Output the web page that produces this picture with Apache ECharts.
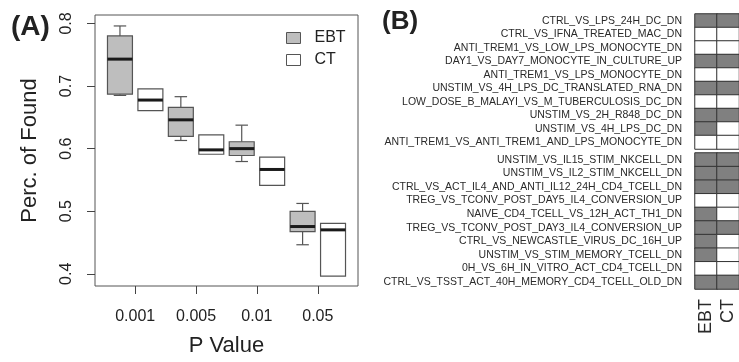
<!DOCTYPE html>
<html>
<head>
<meta charset="utf-8">
<script src="https://cdn.jsdelivr.net/npm/echarts@6/dist/echarts.min.js"></script>
<style>
html,body{margin:0;padding:0;background:#fff;}
#chart{width:739px;height:362px;}
</style>
</head>
<body>
<div id="chart"></div>
<script>
// ---- Panel A data ----
const pValues = ['0.001', '0.005', '0.01', '0.05'];
// [min, Q1, median, Q3, max]
const ebtStats = [
  [0.685, 0.687, 0.743, 0.780, 0.796],
  [0.613, 0.6195, 0.646, 0.666, 0.683],
  [0.5794, 0.589, 0.600, 0.611, 0.6375],
  [0.4464, 0.4675, 0.4755, 0.4997, 0.5124]
];
const ctStats = [
  [0.6607, 0.6607, 0.6776, 0.6955, 0.6955],
  [0.591, 0.591, 0.598, 0.622, 0.622],
  [0.5414, 0.5414, 0.5667, 0.5863, 0.5863],
  [0.3963, 0.3963, 0.4702, 0.4807, 0.4807]
];
const yTicks = [0.4, 0.5, 0.6, 0.7, 0.8];

// ---- Panel B data ----
const methods = ['EBT', 'CT'];
const geneSets1 = [
  'CTRL_VS_LPS_24H_DC_DN',
  'CTRL_VS_IFNA_TREATED_MAC_DN',
  'ANTI_TREM1_VS_LOW_LPS_MONOCYTE_DN',
  'DAY1_VS_DAY7_MONOCYTE_IN_CULTURE_UP',
  'ANTI_TREM1_VS_LPS_MONOCYTE_DN',
  'UNSTIM_VS_4H_LPS_DC_TRANSLATED_RNA_DN',
  'LOW_DOSE_B_MALAYI_VS_M_TUBERCULOSIS_DC_DN',
  'UNSTIM_VS_2H_R848_DC_DN',
  'UNSTIM_VS_4H_LPS_DC_DN',
  'ANTI_TREM1_VS_ANTI_TREM1_AND_LPS_MONOCYTE_DN'
];
const found1EBT = [1, 0, 0, 1, 0, 1, 0, 1, 1, 0];
const found1CT  = [1, 0, 0, 1, 0, 1, 0, 1, 0, 0];
const geneSets2 = [
  'UNSTIM_VS_IL15_STIM_NKCELL_DN',
  'UNSTIM_VS_IL2_STIM_NKCELL_DN',
  'CTRL_VS_ACT_IL4_AND_ANTI_IL12_24H_CD4_TCELL_DN',
  'TREG_VS_TCONV_POST_DAY5_IL4_CONVERSION_UP',
  'NAIVE_CD4_TCELL_VS_12H_ACT_TH1_DN',
  'TREG_VS_TCONV_POST_DAY3_IL4_CONVERSION_UP',
  'CTRL_VS_NEWCASTLE_VIRUS_DC_16H_UP',
  'UNSTIM_VS_STIM_MEMORY_TCELL_DN',
  '0H_VS_6H_IN_VITRO_ACT_CD4_TCELL_DN',
  'CTRL_VS_TSST_ACT_40H_MEMORY_CD4_TCELL_OLD_DN'
];
const found2EBT = [1, 1, 1, 0, 1, 1, 1, 1, 0, 1];
const found2CT  = [1, 1, 1, 0, 0, 1, 0, 0, 0, 1];

// ---- build ----
const ebtData = ebtStats.map((s, i) => [2 * i + 1].concat(s));
const ctData = ctStats.map((s, i) => [2 * i + 2].concat(s));
const tickPos = pValues.map((p, i) => 2 * i + 1.5);

function heat(ebt, ct) {
  const d = [];
  ebt.forEach((v, i) => d.push([0, i, v]));
  ct.forEach((v, i) => d.push([1, i, v]));
  return d;
}

function makeRender(fill) {
  return function (params, api) {
    const x = api.value(0);
    const hw = 0.41, cap = 0.205;
    const mn = api.value(1), q1 = api.value(2), md = api.value(3), q3 = api.value(4), mx = api.value(5);
    const tl = api.coord([x - hw, q3]);
    const br = api.coord([x + hw, q1]);
    const pMax = api.coord([x, mx]);
    const pMin = api.coord([x, mn]);
    const cl = api.coord([x - cap, 0.5])[0];
    const cr = api.coord([x + cap, 0.5])[0];
    const ml = api.coord([x - hw, md]);
    const mr = api.coord([x + hw, md]);
    const stroke = { stroke: '#555', lineWidth: 1.2 };
    const children = [];
    if (mx > q3) {
      children.push({ type: 'line', shape: { x1: pMax[0], y1: pMax[1], x2: pMax[0], y2: tl[1] }, style: stroke });
      children.push({ type: 'line', shape: { x1: cl, y1: pMax[1], x2: cr, y2: pMax[1] }, style: stroke });
    }
    if (mn < q1) {
      children.push({ type: 'line', shape: { x1: pMin[0], y1: br[1], x2: pMin[0], y2: pMin[1] }, style: stroke });
      children.push({ type: 'line', shape: { x1: cl, y1: pMin[1], x2: cr, y2: pMin[1] }, style: stroke });
    }
    children.push({ type: 'rect', shape: { x: tl[0], y: tl[1], width: br[0] - tl[0], height: br[1] - tl[1] },
      style: { fill: fill, stroke: '#555', lineWidth: 1.2 } });
    children.push({ type: 'line', shape: { x1: ml[0], y1: ml[1], x2: mr[0], y2: mr[1] }, style: { stroke: '#1a1a1a', lineWidth: 3 } });
    return { type: 'group', children: children };
  };
}

const chart = echarts.init(document.getElementById('chart'), null, { renderer: 'canvas' });
const FONT = 'Liberation Sans, Arial, Helvetica, sans-serif';
const heatY = (names, gi) => ({
  type: 'category', gridIndex: gi, data: names, inverse: true,
  axisLine: { show: false }, axisTick: { show: false },
  axisLabel: { fontSize: 10.5, color: '#2a2a2a', margin: 13, fontFamily: FONT, interval: 0 }
});
const heatX = (gi, showLabel) => ({
  type: 'category', gridIndex: gi, data: methods, position: 'bottom',
  axisLine: { show: false }, axisTick: { show: false }, splitLine: { show: false },
  axisLabel: { show: showLabel, rotate: 90, fontSize: 18, color: '#2a2a2a', margin: 10, fontFamily: FONT,
    interval: 0, hideOverlap: false, showMinLabel: true, showMaxLabel: true }
});

chart.setOption({
  animation: false,
  backgroundColor: '#fff',
  textStyle: { fontFamily: FONT },
  graphic: [
    { type: 'text', left: 11, top: 13, style: { text: '(A)', font: 'bold 28px ' + FONT, fill: '#222' } },
    { type: 'text', left: 382, top: 9, style: { text: '(B)', font: 'bold 26px ' + FONT, fill: '#222' } }
  ],
  legend: {
    orient: 'vertical', left: 281, top: 25, itemWidth: 14, itemHeight: 11, itemGap: 6,
    selectedMode: false,
    textStyle: { fontSize: 16, color: '#222', padding: [0, 0, 0, 9] },
    data: [
      { name: 'EBT', icon: 'rect', itemStyle: { color: '#bebebe', borderColor: '#555', borderWidth: 1 } },
      { name: 'CT', icon: 'rect', itemStyle: { color: '#ffffff', borderColor: '#555', borderWidth: 1 } }
    ]
  },
  grid: [
    { left: 95, top: 15, width: 263, height: 274, show: true, borderColor: '#555', borderWidth: 1, backgroundColor: 'transparent' },
    { left: 695, top: 14, width: 45, height: 135 },
    { left: 695, top: 153, width: 45, height: 136 }
  ],
  xAxis: [
    {
      type: 'value', gridIndex: 0, min: 0.18, max: 8.82,
      name: 'P Value', nameLocation: 'middle', nameGap: 49,
      nameTextStyle: { fontSize: 22, color: '#222' },
      splitLine: { show: false }, axisLine: { show: false },
      axisTick: { show: true, length: 8, lineStyle: { color: '#444' }, customValues: tickPos },
      axisLabel: { fontSize: 16, color: '#222', margin: 23, customValues: tickPos,
        formatter: v => { const i = tickPos.findIndex(t => Math.abs(t - v) < 1e-6); return i >= 0 ? pValues[i] : ''; } }
    },
    heatX(1, false),
    heatX(2, true)
  ],
  yAxis: [
    {
      type: 'value', gridIndex: 0, min: 0.3805, max: 0.8135,
      name: 'Perc. of Found', nameLocation: 'middle', nameGap: 54, nameRotate: 90,
      nameTextStyle: { fontSize: 22, color: '#222' },
      splitLine: { show: false }, axisLine: { show: false },
      axisTick: { show: true, length: 8, lineStyle: { color: '#444' }, customValues: yTicks },
      axisLabel: { fontSize: 16, color: '#222', margin: 20, rotate: 90, customValues: yTicks,
        formatter: v => v.toFixed(1) }
    },
    heatY(geneSets1, 1),
    heatY(geneSets2, 2)
  ],
  visualMap: {
    type: 'piecewise', show: false, seriesIndex: [2, 3], dimension: 2,
    pieces: [{ value: 1, color: '#808080' }, { value: 0, color: '#ffffff' }]
  },
  series: [
    { name: 'EBT', type: 'custom', xAxisIndex: 0, yAxisIndex: 0, data: ebtData, renderItem: makeRender('#bebebe'),
      itemStyle: { color: '#bebebe' }, encode: { x: 0, y: [1, 2, 3, 4, 5] } },
    { name: 'CT', type: 'custom', xAxisIndex: 0, yAxisIndex: 0, data: ctData, renderItem: makeRender('#ffffff'),
      itemStyle: { color: '#ffffff' }, encode: { x: 0, y: [1, 2, 3, 4, 5] } },
    { name: 'block1', type: 'heatmap', xAxisIndex: 1, yAxisIndex: 1, data: heat(found1EBT, found1CT),
      itemStyle: { borderColor: '#333', borderWidth: 1 }, emphasis: { disabled: true } },
    { name: 'block2', type: 'heatmap', xAxisIndex: 2, yAxisIndex: 2, data: heat(found2EBT, found2CT),
      itemStyle: { borderColor: '#333', borderWidth: 1 }, emphasis: { disabled: true } }
  ]
});
</script>
</body>
</html>
